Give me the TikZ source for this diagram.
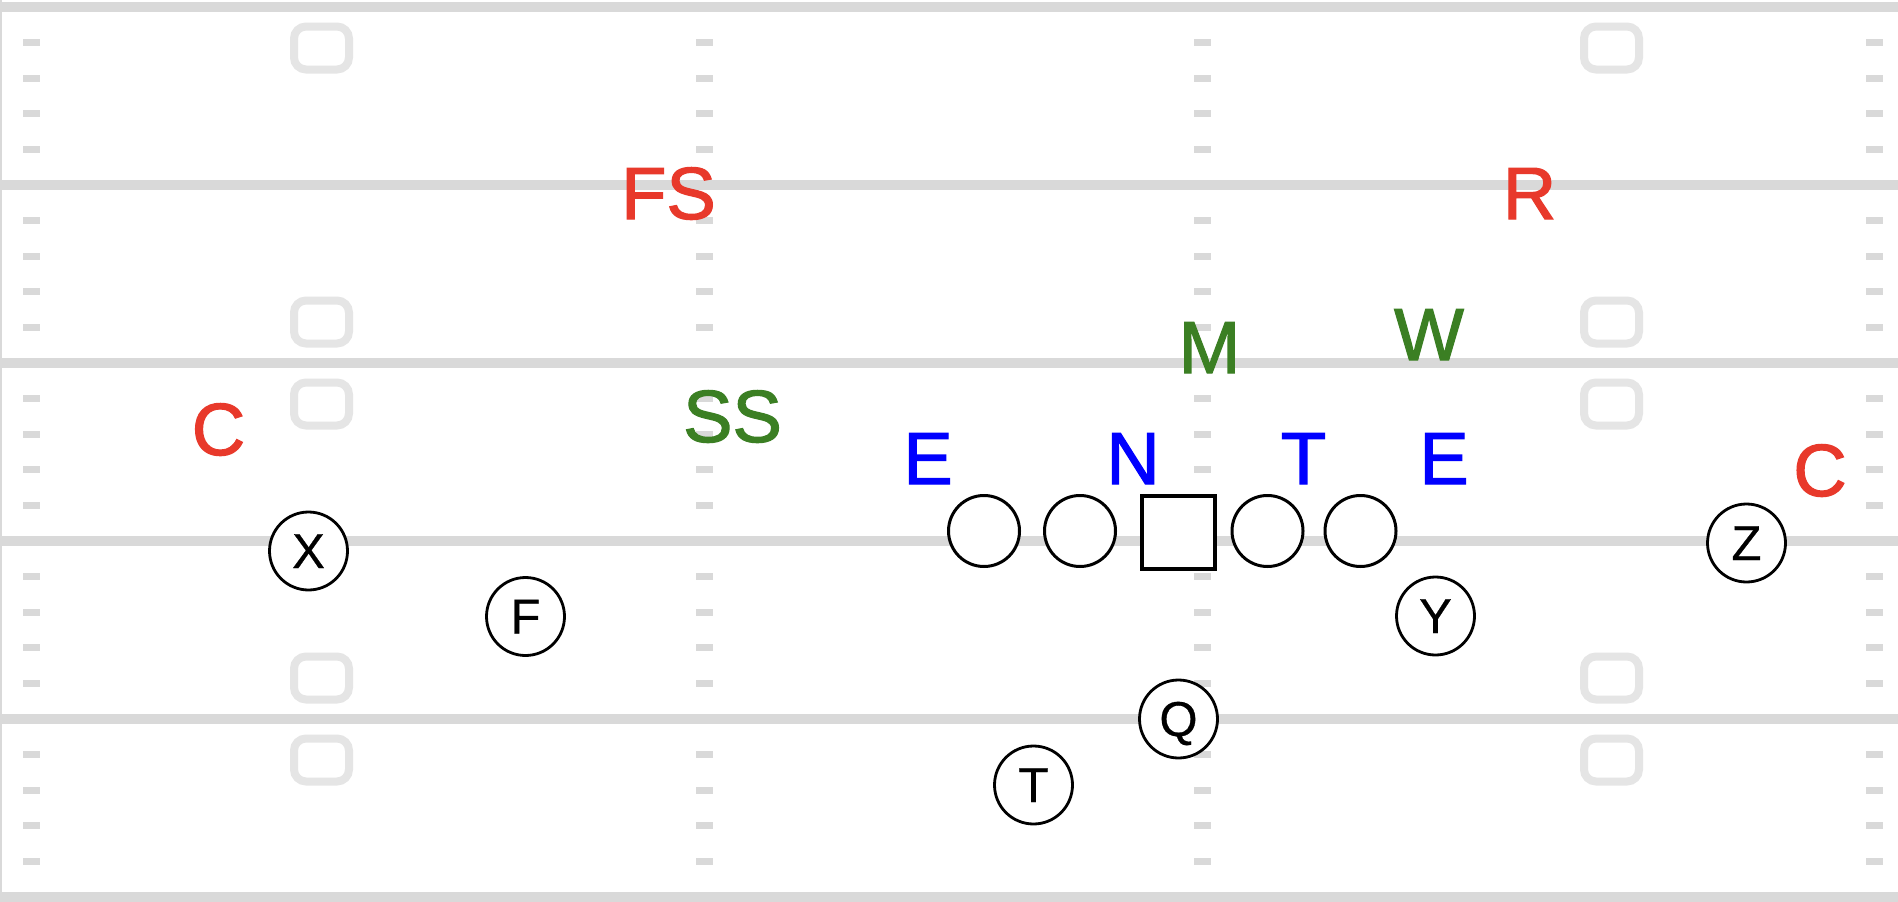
\documentclass[tikz,border=0pt]{standalone}
\usepackage{fontspec}
\setmainfont{Liberation Sans}
\newfontfamily\labelfont{Liberation Sans}[FakeBold=1.6]
\newfontfamily\playerfont{Liberation Sans}[FakeBold=0.6]
\definecolor{fieldgray}{HTML}{D9D9D9}
\definecolor{numgray}{HTML}{E5E5E5}
\definecolor{defred}{HTML}{E8392B}
\definecolor{defgreen}{HTML}{3B7F23}
\definecolor{defblue}{HTML}{0000FF}
\begin{document}
\begin{tikzpicture}[x=1pt,y=-1pt,
  yardline/.style={draw=fieldgray,line width=10pt},
  hashmark/.style={fill=fieldgray},
  numbox/.style={draw=numgray,line width=8pt,rounded corners=12pt},
  olman/.style={circle,draw=black,fill=white,line width=3pt,minimum size=71pt,inner sep=0pt},
  snapper/.style={rectangle,draw=black,fill=white,line width=4pt,minimum size=73pt,inner sep=0pt},
  skill/.style={circle,draw=black,fill=white,line width=2.8pt,minimum size=78pt,inner sep=0pt,
    font=\playerfont\fontsize{49}{49}\selectfont,text height=34pt,text depth=0pt},
  deflabel/.style={anchor=base,inner sep=0pt,font=\labelfont\fontsize{74}{74}\selectfont},
]
\useasboundingbox (0,0) rectangle (1898,902);
\fill[white] (0,0) rectangle (1898,902);
% left border
\fill[fieldgray] (0,0) rectangle (2,902);
% yard lines
\foreach \ly in {7,185,363,541,719,897}
  \draw[yardline] (0,\ly) -- (1898,\ly);
% hash marks
\foreach \hx in {31,704,1202,1874}
  \foreach \band in {7,185,363,541,719}
    \foreach \k in {1,2,3,4}
      \fill[hashmark] ({\hx-8.5},{\band+35.6*\k-3.5}) rectangle ++(17,7);
% number boxes
\foreach \bx in {321.5,1611.5}
  \foreach \by in {48,322,404,678,760}
    \draw[numbox] ({\bx-27.5},{\by-21.5}) rectangle ++(55,43);
% offensive line
\node[olman] (lt) at (984,531) {};
\node[olman] (lg) at (1080,531) {};
\node[snapper] (c) at (1178.5,532.5) {};
\node[olman] (rg) at (1267.5,531) {};
\node[olman] (rt) at (1360.5,531) {};
% skill players
\node[skill] (x) at (308.5,551) {X};
\node[skill] (f) at (525.5,616.5) {F};
\node[skill] (y) at (1435.5,616) {Y};
\node[skill] (z) at (1746.5,543) {Z};
\node[skill] (q) at (1178.5,719) {Q};
\node[skill] (t) at (1033.5,785) {T};
% defense
\node[deflabel,text=defred] (fs) at (668.5,219) {FS};
\node[deflabel,text=defred] (r) at (1529.5,219) {R};
\node[deflabel,text=defgreen] (m) at (1209.5,373) {M};
\node[deflabel,text=defgreen] (w) at (1429,360) {W};
\node[deflabel,text=defred] (cl) at (218.5,455) {C};
\node[deflabel,text=defgreen] (ss) at (732.5,442) {SS};
\node[deflabel,text=defblue] (el) at (928,484) {E};
\node[deflabel,text=defblue] (n) at (1133,484) {N};
\node[deflabel,text=defblue] (tk) at (1303.5,484) {T};
\node[deflabel,text=defblue] (er) at (1444,484) {E};
\node[deflabel,text=defred] (cr) at (1820,496) {C};
\end{tikzpicture}
\end{document}
